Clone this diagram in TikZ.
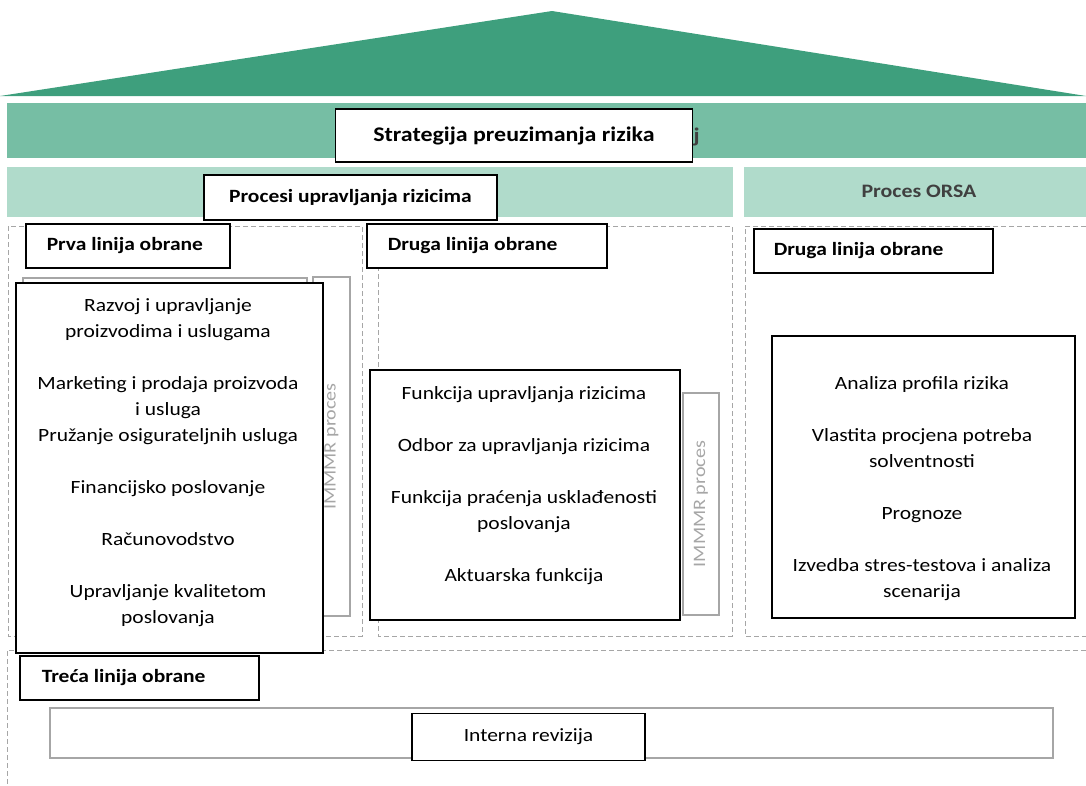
\documentclass[tikz,border=0pt]{standalone}
\usepackage{fontspec}
\setmainfont{Carlito}[FakeStretch=1.15]
\usepackage{tikz}

\definecolor{roofgreen}{HTML}{3E9F7D}
\definecolor{bandgreen}{HTML}{76BEA4}
\definecolor{palegreen}{HTML}{B0DBCB}
\definecolor{grayline}{HTML}{A6A6A6}
\definecolor{darktext}{HTML}{404040}

\begin{document}
\begin{tikzpicture}[x=1pt, y=-1pt,
    title/.style={draw, fill=white, line width=1.5pt, font=\bfseries\fontsize{20.8}{24}\selectfont},
    linebox/.style={draw, fill=white, line width=1.5pt, anchor=north west, align=flush left,
      inner xsep=21pt, minimum height=44pt, text width=#1, font=\bfseries\fontsize{18.7}{22}\selectfont},
    linebox/.default=198pt,
    listbox/.style={draw, fill=white, line width=1.5pt, anchor=north west},
    listtext/.style={align=flush center, font=\fontsize{18.7}{26}\selectfont},
    immmr/.style={draw=grayline, line width=2pt, rotate=90, text=grayline,
      font=\fontsize{17.5}{20}\selectfont},
    frame/.style={draw=grayline, dash pattern=on 5pt off 3pt, line width=1pt}]

  \useasboundingbox (0,0) rectangle (1086,785);

  % roof and bands
  \fill[roofgreen] (0,96) -- (552,11) -- (1086,96) -- cycle;
  \fill[bandgreen] (7,103) rectangle (1086,158);
  \fill[palegreen] (7,167) rectangle (733,217);
  \fill[palegreen] (744,167) rectangle (1086,217);

  \node[font=\bfseries\fontsize{20.8}{24}\selectfont, text=darktext, anchor=base west] (stray) at (690,142) {j};
  \node[title, minimum width=357pt, minimum height=53pt] (strategy) at (514,135.5) {Strategija preuzimanja rizika};
  \node[title, minimum width=293pt, minimum height=45pt, font=\bfseries\fontsize{18.7}{22}\selectfont] (process) at (350.5,197.5) {Procesi upravljanja rizicima};
  \node[font=\bfseries\fontsize{19}{22}\selectfont, text=darktext] (orsa) at (919,191) {Proces ORSA};

  % dashed frames
  \draw[frame] (8,226) rectangle (362,636);
  \draw[frame] (378,226) rectangle (732,636);
  \draw[frame] (1086,226) -- (745,226) -- (745,636) -- (1086,636);
  \draw[frame] (1086,650) -- (7,650) -- (7,785);

  % first line
  \node[linebox=162pt] (first) at (25,223) {Prva linija obrane};
  \draw[grayline, line width=2pt] (23,278) rectangle (307,616);
  \node[immmr, minimum width=339pt, minimum height=37pt] (immmr1) at (331.5,446.5) {IMMMR proces};
  \node[listbox, minimum width=307pt, minimum height=370pt] (firstbox) at (15,282) {};
  \node[listtext] (firsttext) at (168,463) {Razvoj i upravljanje\\ proizvodima i uslugama\\[26pt]
    Marketing i prodaja proizvoda\\ i usluga\\ Pružanje osigurateljnih usluga\\[26pt]
    Financijsko poslovanje\\[26pt] Računovodstvo\\[26pt]
    Upravljanje kvalitetom\\ poslovanja};

  % second line
  \node[linebox] (second) at (366,223) {Druga linija obrane};
  \node[immmr, minimum width=222pt, minimum height=36pt] (immmr2) at (701,504) {IMMMR proces};
  \node[listbox, minimum width=310pt, minimum height=250pt] (secondbox) at (369,369) {};
  \node[listtext] (secondtext) at (524,485.5) {Funkcija upravljanja rizicima\\[26pt]
    Odbor za upravljanja rizicima\\[26pt]
    Funkcija praćenja usklađenosti\\ poslovanja\\[26pt]
    Aktuarska funkcija};

  % ORSA
  \node[linebox=199pt, inner xsep=20pt] (orsaline) at (753,228) {Druga linija obrane};
  \node[listbox, minimum width=303pt, minimum height=282pt] (orsabox) at (771,335) {};
  \node[listtext] (orsatext) at (922,489) {Analiza profila rizika\\[26pt]
    Vlastita procjena potreba\\ solventnosti\\[26pt]
    Prognoze\\[26pt]
    Izvedba stres-testova i analiza\\ scenarija};

  % third line
  \node[linebox=195pt, inner xsep=22pt] (third) at (19,655) {Treća linija obrane};
  \draw[grayline, line width=2pt] (50,708) rectangle (1053,758);
  \node[title, font=\fontsize{18.7}{22}\selectfont, minimum width=233pt, minimum height=47pt] (audit) at (528.5,737) {Interna revizija};

\end{tikzpicture}
\end{document}
